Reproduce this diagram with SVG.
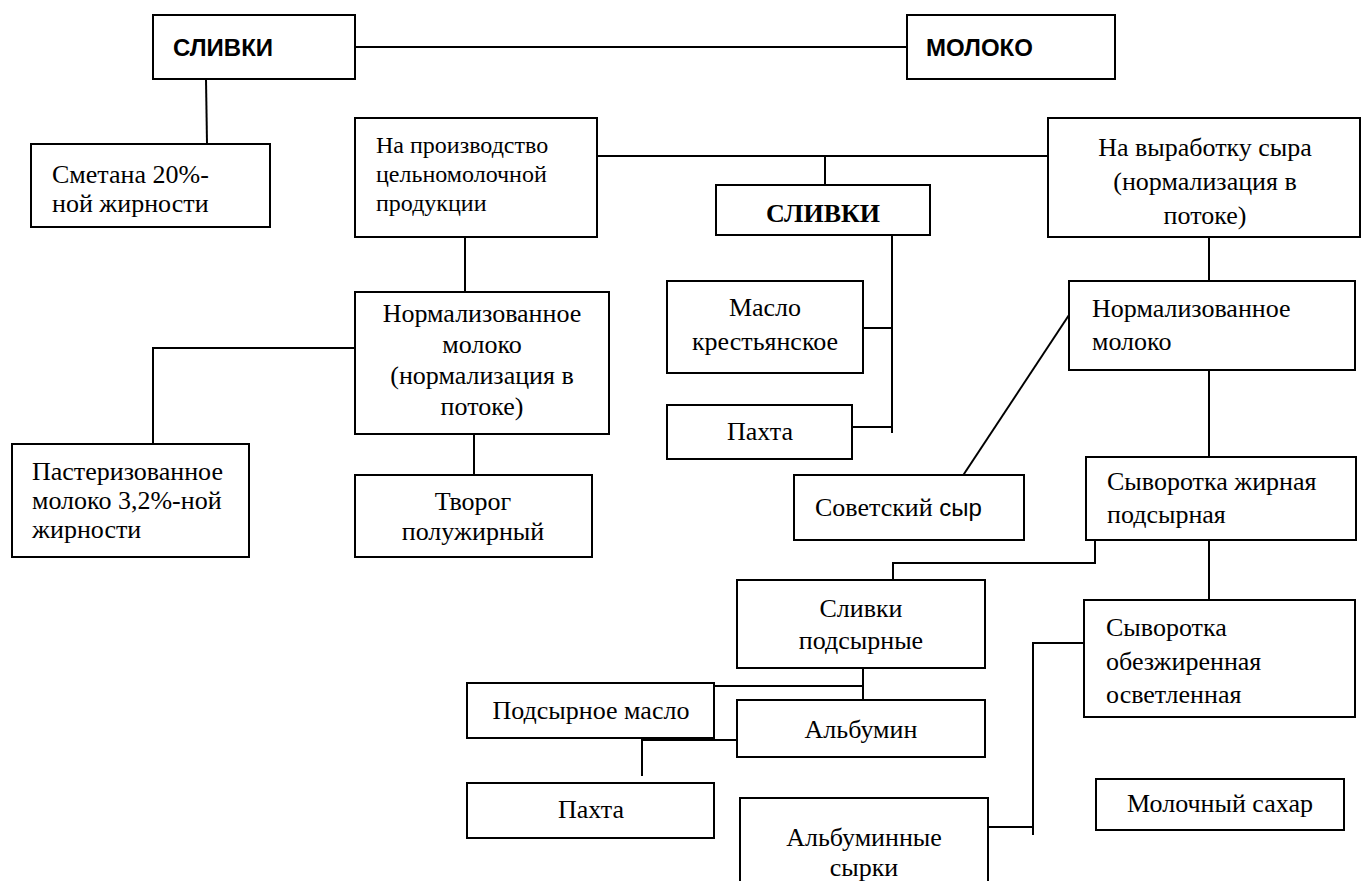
<svg xmlns="http://www.w3.org/2000/svg" width="1362" height="881" viewBox="0 0 1362 881">
<style>
.b{fill:#fff;stroke:#000;stroke-width:2}
.t{font-family:"Liberation Serif","Times New Roman",serif;font-size:26px;fill:#000}
.s{font-size:24px}
.c{text-anchor:middle}
.h{font-family:"Liberation Sans",Arial,sans-serif;font-weight:bold;font-size:24px;fill:#000}
.hb{font-weight:bold}
.k{font-family:"Liberation Sans",Arial,sans-serif;font-size:24px}
.ln{fill:none;stroke:#000;stroke-width:2}
</style>
<rect width="1362" height="881" fill="#fff"/>
<g id="connectors" class="ln">
<path d="M355 47H907"/>
<path d="M206 79L207 144"/>
<path d="M597 156H1048"/>
<path d="M825 156V185"/>
<path d="M465 237V292"/>
<path d="M355 348H153V444"/>
<path d="M474 417V475"/>
<path d="M892 235V433"/>
<path d="M863 328H892"/>
<path d="M852 427H892"/>
<path d="M1209 237V281"/>
<path d="M1069 315L962 477"/>
<path d="M1209 370V457"/>
<path d="M1209 540V600"/>
<path d="M1095 540V563H893V580"/>
<path d="M863 668V700"/>
<path d="M714 686H863"/>
<path d="M737 740H642V776"/>
<path d="M988 827H1033"/>
<path d="M1033 835V643H1084"/>
</g>
<g id="n1"><rect class="b" x="153" y="15" width="202" height="64"/><text class="h" x="173" y="56">СЛИВКИ</text></g>
<g id="n2"><rect class="b" x="907" y="15" width="208" height="64"/><text class="h" x="926" y="56">МОЛОКО</text></g>
<g id="n3"><rect class="b" x="31" y="144" width="239" height="83"/><text class="t" x="52" y="183">Сметана 20%-</text><text class="t" x="52" y="212">ной жирности</text></g>
<g id="n4"><rect class="b" x="355" y="118" width="242" height="119"/><text class="t s" x="376" y="153">На производство</text><text class="t s" x="376" y="182">цельномолочной</text><text class="t s" x="376" y="211">продукции</text></g>
<g id="n5"><rect class="b" x="716" y="185" width="214" height="50"/><text class="t c hb" x="823" y="222">СЛИВКИ</text></g>
<g id="n6"><rect class="b" x="1048" y="118" width="312" height="119"/><text class="t c" x="1205" y="156">На выработку сыра</text><text class="t c" x="1205" y="190">(нормализация в</text><text class="t c" x="1205" y="224">потоке)</text></g>
<g id="n7"><rect class="b" x="355" y="292" width="254" height="142"/><text class="t c" x="482" y="322">Нормализованное</text><text class="t c" x="482" y="353">молоко</text><text class="t c" x="482" y="384">(нормализация в</text><text class="t c" x="482" y="415">потоке)</text></g>
<g id="n8"><rect class="b" x="12" y="444" width="237" height="113"/><text class="t" x="32" y="480">Пастеризованное</text><text class="t" x="32" y="509">молоко 3,2%-ной</text><text class="t" x="32" y="538">жирности</text></g>
<g id="n9"><rect class="b" x="355" y="475" width="237" height="82"/><text class="t c" x="473" y="510">Творог</text><text class="t c" x="473" y="540">полужирный</text></g>
<g id="n10"><rect class="b" x="667" y="281" width="196" height="92"/><text class="t c" x="765" y="316">Масло</text><text class="t c" x="765" y="350">крестьянское</text></g>
<g id="n11"><rect class="b" x="667" y="405" width="185" height="54"/><text class="t c" x="760" y="440">Пахта</text></g>
<g id="n12"><rect class="b" x="1069" y="281" width="286" height="89"/><text class="t" x="1092" y="317">Нормализованное</text><text class="t" x="1092" y="350">молоко</text></g>
<g id="n13"><rect class="b" x="794" y="475" width="230" height="65"/><text class="t" x="815" y="516">Советский <tspan class="k">сыр</tspan></text></g>
<g id="n14"><rect class="b" x="1086" y="457" width="270" height="83"/><text class="t" x="1107" y="490">Сыворотка жирная</text><text class="t" x="1107" y="523">подсырная</text></g>
<g id="n15"><rect class="b" x="737" y="580" width="248" height="88"/><text class="t c" x="861" y="617">Сливки</text><text class="t c" x="861" y="649">подсырные</text></g>
<g id="n16"><rect class="b" x="467" y="683" width="247" height="55"/><text class="t c" x="591" y="719">Подсырное масло</text></g>
<g id="n17"><rect class="b" x="737" y="700" width="248" height="57"/><text class="t c" x="861" y="738">Альбумин</text></g>
<g id="n18"><rect class="b" x="467" y="783" width="247" height="55"/><text class="t c" x="591" y="818">Пахта</text></g>
<g id="n19"><rect class="b" x="740" y="798" width="248" height="100"/><text class="t c" x="864" y="846">Альбуминные</text><text class="t c" x="864" y="876">сырки</text></g>
<g id="n20"><rect class="b" x="1084" y="600" width="271" height="117"/><text class="t" x="1106" y="636">Сыворотка</text><text class="t" x="1106" y="670">обезжиренная</text><text class="t" x="1106" y="703">осветленная</text></g>
<g id="n21"><rect class="b" x="1096" y="779" width="248" height="51"/><text class="t c" x="1220" y="812">Молочный сахар</text></g>
</svg>
